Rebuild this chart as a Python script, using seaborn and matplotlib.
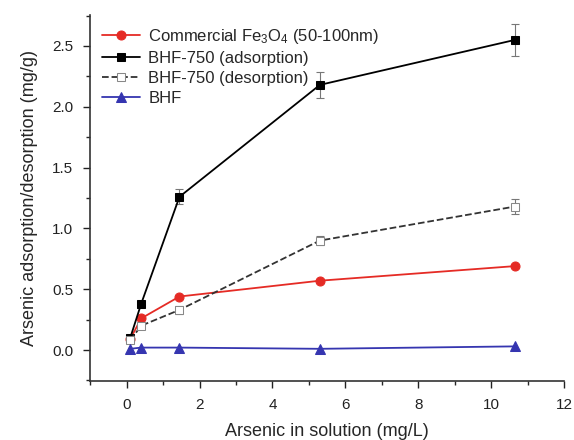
import matplotlib
matplotlib.use('Agg')
import matplotlib.pyplot as plt
import seaborn as sns
import pandas as pd
from matplotlib.ticker import MultipleLocator

# values
conc = [0.1, 0.4, 1.45, 5.3, 10.65]
fe3o4 = [0.09, 0.26, 0.44, 0.57, 0.69]
bhf750_ads = [0.10, 0.38, 1.26, 2.18, 2.55]
bhf750_ads_err = [0.02, 0.02, 0.06, 0.11, 0.13]
bhf750_des = [0.08, 0.20, 0.33, 0.90, 1.18]
bhf750_des_err = [0.01, 0.02, 0.03, 0.04, 0.06]
bhf = [0.01, 0.02, 0.02, 0.01, 0.03]

sns.set_theme(style='ticks')
plt.rcParams['font.family'] = ['Liberation Sans', 'DejaVu Sans']
plt.rcParams['mathtext.fontset'] = 'custom'
plt.rcParams['mathtext.rm'] = 'Liberation Sans'
plt.rcParams['mathtext.it'] = 'Liberation Sans'

fig = plt.figure(figsize=(5.74, 4.4), dpi=100)
ax = fig.add_axes([0.157, 0.134, 0.826, 0.832])

df = pd.DataFrame({'x': conc, 'fe': fe3o4, 'ads': bhf750_ads,
                   'des': bhf750_des, 'bhf': bhf})

# error bars first so markers sit on top
ax.errorbar(conc, bhf750_ads, yerr=bhf750_ads_err, fmt='none',
            ecolor='#777777', elinewidth=0.8, capsize=3, capthick=0.8, zorder=1)
ax.errorbar(conc, bhf750_des, yerr=bhf750_des_err, fmt='none',
            ecolor='#777777', elinewidth=0.8, capsize=3, capthick=0.8, zorder=1)

sns.lineplot(data=df, x='x', y='fe', ax=ax, color='#e52b25', marker='o',
             markersize=6.5, markeredgecolor='#e52b25', linewidth=1.3,
             label=r'Commercial Fe$_3$O$_4$ (50-100nm)')
sns.lineplot(data=df, x='x', y='ads', ax=ax, color='black', marker='s',
             markersize=5.5, markeredgecolor='black', linewidth=1.3,
             label='BHF-750 (adsorption)')
sns.lineplot(data=df, x='x', y='des', ax=ax, color='#333333', marker='s',
             markersize=5.5, markerfacecolor='white', markeredgecolor='#888888',
             linewidth=1.3, linestyle='--', dashes=(4, 3),
             label='BHF-750 (desorption)')
sns.lineplot(data=df, x='x', y='bhf', ax=ax, color='#3535b0', marker='^',
             markersize=6.5, markeredgecolor='#3535b0', linewidth=1.3,
             label='BHF')

ax.set_xlim(-1, 12)
ax.set_ylim(-0.255, 2.755)
ax.xaxis.set_major_locator(MultipleLocator(2))
ax.xaxis.set_minor_locator(MultipleLocator(1))
ax.yaxis.set_major_locator(MultipleLocator(0.5))
ax.yaxis.set_minor_locator(MultipleLocator(0.25))
ax.yaxis.set_major_formatter(matplotlib.ticker.FormatStrFormatter('%.1f'))
ax.tick_params(which='major', direction='out', length=5, width=1, labelsize=11,
               colors='#222222', pad=7)
ax.tick_params(which='minor', direction='out', length=3, width=1)
for s in ['top', 'right']:
    ax.spines[s].set_visible(False)
for s in ['left', 'bottom']:
    ax.spines[s].set_color('#333333')
    ax.spines[s].set_linewidth(1.2)

ax.set_xlabel('Arsenic in solution (mg/L)', fontsize=13, labelpad=8)
ax.set_ylabel('Arsenic adsorption/desorption (mg/g)', fontsize=13, labelpad=10)

ax.legend(loc='upper left', frameon=False, fontsize=12, handlelength=2.3,
          borderaxespad=0.0, labelspacing=0.3, handletextpad=0.5,
          bbox_to_anchor=(0.01, 0.985))

fig.savefig('out.png', dpi=100)
